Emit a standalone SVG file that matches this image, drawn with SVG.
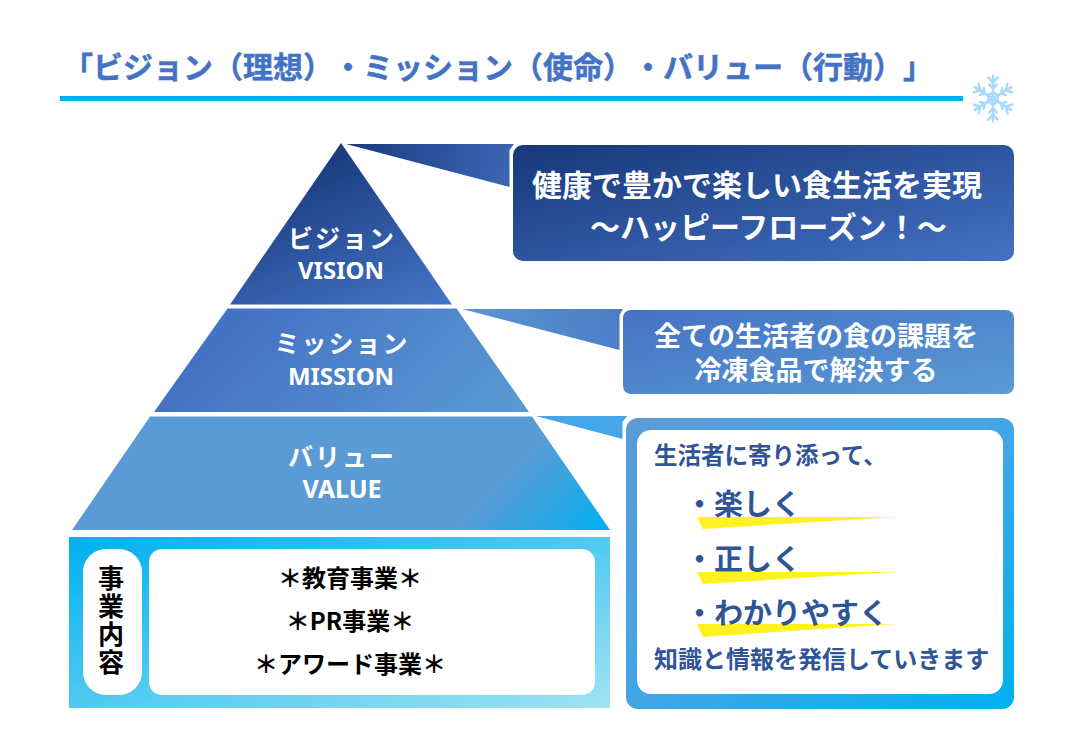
<svg xmlns="http://www.w3.org/2000/svg" width="1076" height="752" viewBox="0 0 1076 752">
<style>
text{font-family:"Noto Sans CJK JP","Noto Sans",sans-serif;font-weight:700;font-feature-settings:"chws" 0;text-spacing-trim:space-all}
.c{text-anchor:middle}
.w{fill:#fff}
.n{fill:#2f5597}
.k{fill:#000}
.lat{font-family:"Noto Sans","Noto Sans CJK JP",sans-serif}
.hl{fill:#fff21f}
.fl{stroke:#a9d9fb;stroke-width:2.6;fill:none;stroke-linecap:round}
</style>
<defs>
<linearGradient id="g1" x1="0" y1="0" x2="1" y2="1"><stop offset="0" stop-color="#173779"/><stop offset="1" stop-color="#4472c4"/></linearGradient>
<linearGradient id="p1" gradientUnits="userSpaceOnUse" x1="330" y1="140" x2="400" y2="315"><stop offset="0" stop-color="#173779"/><stop offset="1" stop-color="#4472c4"/></linearGradient>
<linearGradient id="g2" x1="0" y1="0" x2="1" y2="1"><stop offset="0" stop-color="#4472c4"/><stop offset="1" stop-color="#5b9bd5"/></linearGradient>
<linearGradient id="p2" gradientUnits="userSpaceOnUse" x1="230" y1="330" x2="420" y2="520"><stop offset="0" stop-color="#4472c4"/><stop offset="1" stop-color="#5b9bd5"/></linearGradient>
<linearGradient id="p3" gradientUnits="userSpaceOnUse" x1="250" y1="300" x2="545" y2="595"><stop offset="0" stop-color="#5b9bd5"/><stop offset="0.73" stop-color="#5b9bd5"/><stop offset="1" stop-color="#00b0f0"/></linearGradient>
<linearGradient id="g4" x1="0" y1="0" x2="1" y2="1"><stop offset="0" stop-color="#5b9bd5"/><stop offset="0.5" stop-color="#42a6e6"/><stop offset="1" stop-color="#00b0f0"/></linearGradient>
<linearGradient id="g5" x1="0" y1="0" x2="1" y2="1"><stop offset="0" stop-color="#00b0f0"/><stop offset="1" stop-color="#9fe3f3"/></linearGradient>
<linearGradient id="t1" gradientUnits="userSpaceOnUse" x1="345" y1="144" x2="510" y2="187"><stop offset="0" stop-color="#1a3a80"/><stop offset="1" stop-color="#3d66b4"/></linearGradient>
<linearGradient id="t2" gradientUnits="userSpaceOnUse" x1="462" y1="350" x2="621" y2="309"><stop offset="0" stop-color="#5b97d4"/><stop offset="1" stop-color="#4a7dc6"/></linearGradient>
<g id="arm"><path class="fl" d="M0 0V-23M0 -16L-5 -21M0 -16L5 -21M0 -10L-4 -14M0 -10L4 -14"/></g>
</defs>
<rect width="1076" height="752" fill="#fff"/>
<g id="title">
<text x="63" y="78" font-size="30" fill="#4472c4" stroke="#4472c4" stroke-width="0.5">「ビジョン（理想）・ミッション（使命）・バリュー（行動）」</text>
<rect x="60" y="96" width="903" height="5" fill="#00b0f0"/>
</g>
<g id="snowflake" transform="translate(993 98.5) scale(0.92 1)">
<use href="#arm"/><use href="#arm" transform="rotate(60)"/><use href="#arm" transform="rotate(120)"/><use href="#arm" transform="rotate(180)"/><use href="#arm" transform="rotate(240)"/><use href="#arm" transform="rotate(300)"/>
<path class="fl" d="M0 -6L5.2 -3V3L0 6L-5.2 3V-3Z"/>
</g>
<g id="connectors">
<polygon points="346,144 514,144 509.500,150 509.500,187" fill="url(#t1)"/>
<polygon points="462,309 623,309 619.500,315 619.500,350" fill="url(#t2)"/>
<polygon points="536,416 627,416 622.500,422 622.500,439" fill="#44a5e7"/>
</g>
<g id="vision">
<polygon points="341,143 452,304.500 230,304.500" fill="url(#p1)"/>
<text class="w c" x="342" y="248" font-size="25" letter-spacing="2">ビジョン</text>
<text class="w c lat" x="341" y="279" font-size="24">VISION</text>
</g>
<g id="mission">
<polygon points="227.500,308.500 456.500,308.500 529,412 154,412" fill="url(#p2)"/>
<text class="w c" x="342" y="353" font-size="25" letter-spacing="2">ミッション</text>
<text class="w c lat" x="341" y="385" font-size="24">MISSION</text>
</g>
<g id="value">
<polygon points="150,416.500 532,416.500 610,530 72,530" fill="url(#p3)"/>
<text class="w c" x="342" y="466" font-size="25" letter-spacing="2">バリュー</text>
<text class="w c lat" x="342" y="498" font-size="25">VALUE</text>
</g>
<g id="business">
<rect x="69" y="537" width="541" height="171" fill="url(#g5)"/>
<rect x="83" y="549" width="59" height="146" rx="23" fill="#fff"/>
<rect x="149" y="549" width="446" height="146" rx="13" fill="#fff"/>
<text class="k" x="111" y="565" font-size="26" letter-spacing="2" style="writing-mode:vertical-rl">事業内容</text>
<text class="k c" x="350" y="587" font-size="24">＊教育事業＊</text>
<text class="k c" x="350" y="630" font-size="24">＊PR事業＊</text>
<text class="k c" x="350" y="673" font-size="24">＊アワード事業＊</text>
</g>
<g id="vision-box">
<rect x="513" y="145" width="501" height="116" rx="10" fill="url(#g1)"/>
<text class="w" x="532" y="196" font-size="30">健康で豊かで楽しい食生活を実現</text>
<text class="w" x="590" y="238" font-size="30">～ハッピーフローズン！～</text>
</g>
<g id="mission-box">
<rect x="623" y="310" width="391" height="84" rx="8" fill="url(#g2)"/>
<text class="w c" x="816" y="345.500" font-size="27">全ての生活者の食の課題を</text>
<text class="w c" x="816" y="379.500" font-size="27">冷凍食品で解決する</text>
</g>
<g id="value-box">
<rect x="626" y="418" width="388" height="291" rx="12" fill="url(#g4)"/>
<rect x="637" y="430" width="366" height="264" rx="14" fill="#fff"/>
<polygon class="hl" points="697,517 895,517 703,529"/>
<polygon class="hl" points="697,572 895,572 703,584"/>
<polygon class="hl" points="697,624 895,624 703,637"/>
<text class="n" x="654" y="464" font-size="23.500">生活者に寄り添って、</text>
<text class="n" x="685" y="515" font-size="29">・楽しく</text>
<text class="n" x="685" y="570" font-size="29">・正しく</text>
<text class="n" x="685" y="624" font-size="29">・わかりやすく</text>
<text class="n" x="654" y="668" font-size="24">知識と情報を発信していきます</text>
</g>
</svg>
